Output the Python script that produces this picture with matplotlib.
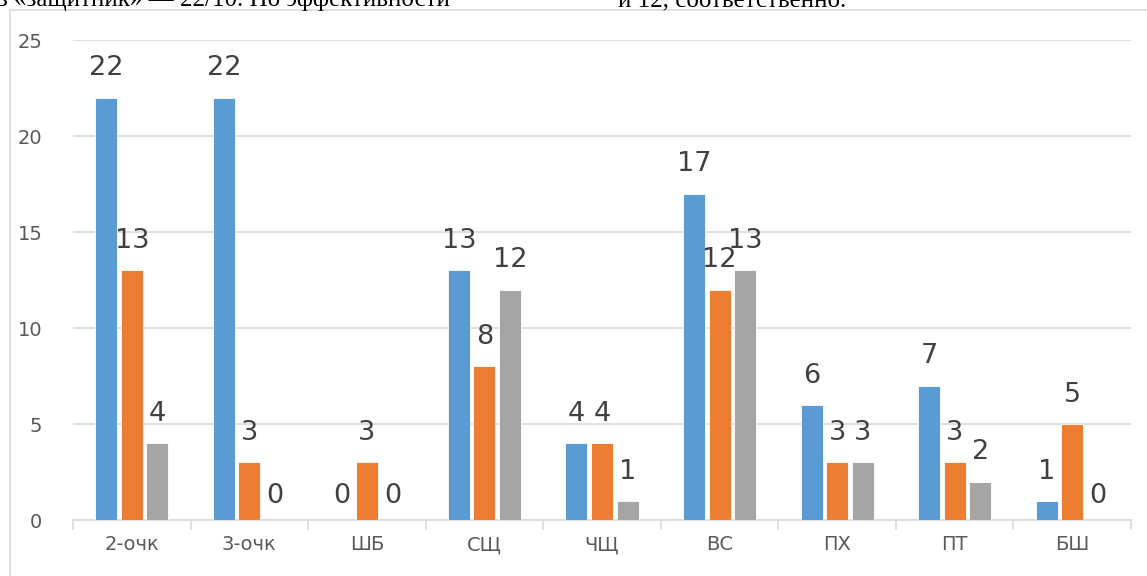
import numpy as np
import matplotlib.pyplot as plt
from matplotlib.lines import Line2D

# data
categories = ['2-очк', '3-очк', 'ШБ', 'СЩ', 'ЧЩ', 'ВС', 'ПХ', 'ПТ', 'БШ']
series_1 = [22, 22, 0, 13, 4, 17, 6, 7, 1]
series_2 = [13, 3, 3, 8, 4, 12, 3, 3, 5]
series_3 = [4, 0, 0, 12, 1, 13, 3, 2, 0]
colors = ['#5B9BD5', '#ED7D31', '#A5A5A5']

W, H = 1147, 576
fig = plt.figure(figsize=(W / 100, H / 100), dpi=100)
ax = fig.add_axes([73 / W, 1 - 520 / H, (1131 - 73) / W, (520 - 40) / H])

x = np.arange(len(categories))
width = 0.187
step = 0.217
for i, (vals, c) in enumerate(zip([series_1, series_2, series_3], colors)):
    pos = x + (i - 1) * step
    ax.bar(pos, vals, width, color=c, edgecolor='white', linewidth=0.6, zorder=3)
    for px, v in zip(pos, vals):
        off = 21 if v > 0 else 17
        ax.annotate(str(v), (px, v), xytext=(0, off), textcoords='offset points',
                    ha='center', va='center', fontsize=19.5, color='#404040')

ax.set_xlim(-0.5, len(categories) - 0.5)
ax.set_ylim(0, 25)
ax.set_yticks(range(0, 26, 5))
ax.set_xticks(x)
ax.set_xticklabels(categories)
ax.tick_params(axis='x', length=0, pad=11, labelsize=14, labelcolor='#595959')
ax.tick_params(axis='y', length=0, pad=22, labelsize=14, labelcolor='#595959')
ax.grid(axis='y', color='#D9D9D9', linewidth=1.2, zorder=0)
for s in ['top', 'right', 'left']:
    ax.spines[s].set_visible(False)
ax.spines['bottom'].set_color('#D9D9D9')
ax.spines['bottom'].set_linewidth(1.2)
# category boundary ticks
for b in np.arange(-0.5, len(categories), 1.0):
    ax.plot([b, b], [0, -0.45], color='#D9D9D9', lw=1.2, clip_on=False, zorder=1)

# chart frame
fig.add_artist(Line2D([10 / W, 10 / W], [0, 1 - 10 / H], color='#D9D9D9', lw=1.2))
fig.add_artist(Line2D([10 / W, 1], [1 - 10 / H, 1 - 10 / H], color='#D9D9D9', lw=1.2))

# clipped document text above the chart
fig.text(-4 / W, 1 - 6 / H, 'в «защитник» — 22/10. По эффективности',
         family='Liberation Serif', fontsize=18, va='baseline', ha='left', color='black')
fig.text(618 / W, 1 - 6 / H, 'и 12, соответственно.',
         family='Liberation Serif', fontsize=18, va='baseline', ha='left', color='black')

fig.savefig('out.png', dpi=100)
